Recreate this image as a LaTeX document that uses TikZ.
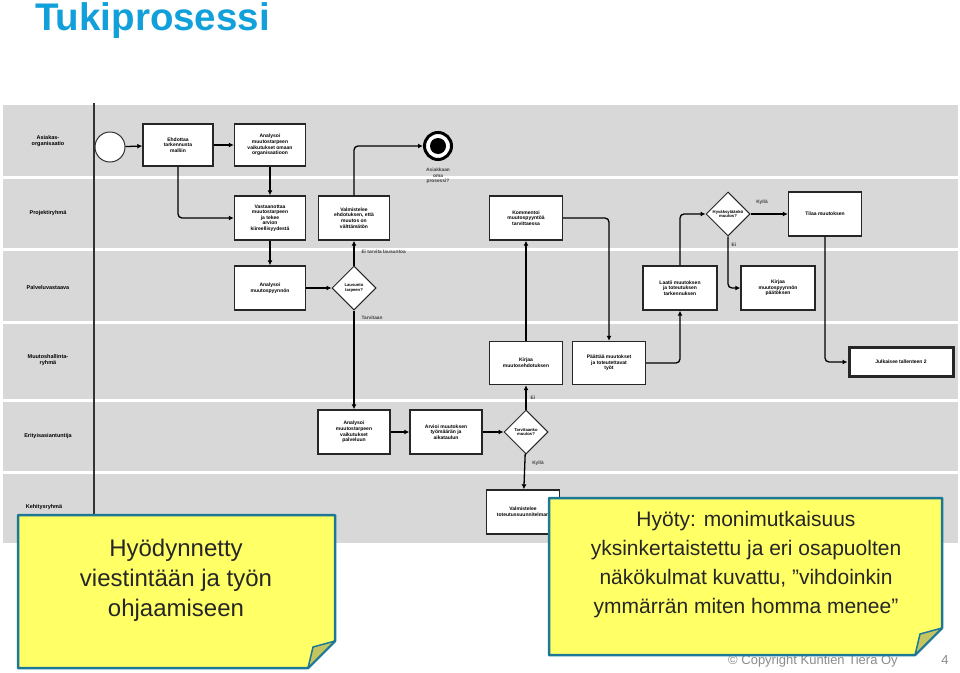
\documentclass[tikz,border=0pt]{standalone}
\usepackage{fontspec}
\setmainfont{Liberation Sans}
\usetikzlibrary{shapes.geometric,arrows.meta}

\definecolor{laneGrey}{RGB}{216,216,216}
\definecolor{tieraBlue}{RGB}{18,160,218}
\definecolor{noteYellow}{RGB}{255,255,102}
\definecolor{noteEdge}{RGB}{28,120,150}
\definecolor{noteFold}{RGB}{196,196,96}

\tikzset{
    task/.style={draw=black!85, line width=1.4pt, fill=white, minimum width=71pt,
        minimum height=44pt, align=center, inner sep=1pt,
        font=\fontsize{5}{5.6}\selectfont\bfseries},
    gate/.style={diamond, draw=black!85, line width=1pt, fill=white, aspect=1,
        minimum width=44pt, minimum height=44pt, inner sep=0pt, align=center,
        font=\fontsize{4.2}{4.7}\selectfont\bfseries},
    flow/.style={line width=1.3pt, rounded corners=4pt, -{Latex[length=5pt,width=5pt]}},
    lanelabel/.style={font=\fontsize{5.5}{6.5}\selectfont\bfseries, align=center},
    flowlabel/.style={font=\fontsize{4.8}{5.4}\selectfont\bfseries, text=black!75},
    notetext/.style={align=center, text=black!85},
}

\begin{document}
\begin{tikzpicture}[x=1pt, y=-1pt]
    \useasboundingbox (0,0) rectangle (960,672);
    \fill [white] (0,0) rectangle (960,672);

    % title
    \node [anchor=base west, inner sep=0pt, text=tieraBlue, font=\fontsize{38.5}{40}\selectfont\bfseries] (title) at (35,30) {Tukiprosessi};

    % swimlanes
    \fill [laneGrey] (3,105) rectangle (958,176);
    \fill [laneGrey] (3,179) rectangle (958,248);
    \fill [laneGrey] (3,251) rectangle (958,321);
    \fill [laneGrey] (3,324) rectangle (958,399);
    \fill [laneGrey] (3,402) rectangle (958,471);
    \fill [laneGrey] (3,474) rectangle (958,543);
    \draw [line width=1.5pt, black!80] (94,103) -- (94,545);

    \node [lanelabel] (lane1) at (48,141) {Asiakas-\\organisaatio};
    \node [lanelabel] (lane2) at (48,213) {Projektiryhmä};
    \node [lanelabel] (lane3) at (48,288) {Palveluvastaava};
    \node [lanelabel] (lane4) at (48,360) {Muutoshallinta-\\ryhmä};
    \node [lanelabel] (lane5) at (48,436) {Erityisasiantuntija};
    \node [lanelabel] (lane6) at (44,507) {Kehitysryhmä};

    % events
    \node [circle, draw=black!80, line width=1pt, fill=white, minimum size=30pt] (start) at (110,147) {};
    \node [circle, draw=black, line width=3pt, fill=white, minimum size=27pt] (end) at (438,146) {};
    \fill [black] (end.center) circle (8);
    \node [flowlabel, align=center] (endlabel) at (438,176) {Asiakkaan\\oma\\prosessi?};

    % tasks
    \node [task, minimum width=70pt, minimum height=42pt] (t1) at (178,145) {Ehdottaa\\tarkennusta\\malliin};
    \node [task, minimum height=42pt] (t2) at (270,145) {Analysoi\\muutostarpeen\\vaikutukset omaan\\organisaatioon};
    \node [task] (t3) at (270,218) {Vastaanottaa\\muutostarpeen\\ja tekee\\arvion\\kiireellisyydestä};
    \node [task] (t4) at (354,218) {Valmistelee\\ehdotuksen, että\\muutos on\\välttämätön};
    \node [task, minimum width=73pt] (t5) at (526,218) {Kommentoi\\muutospyyntöä\\tarvittaessa};
    \node [task, minimum width=73pt] (t6) at (825,214) {Tilaa muutoksen};
    \node [task] (t7) at (270,288) {Analysoi\\muutospyynnön};
    \node [task, minimum width=74pt] (t8) at (680,288) {Laatii muutoksen\\ja toteutuksen\\tarkennuksen};
    \node [task, minimum width=74pt] (t9) at (778,288) {Kirjaa\\muutospyynnön\\päätöksen};
    \node [task, minimum width=73pt, minimum height=43pt] (t10) at (526,363) {Kirjaa\\muutosehdotuksen};
    \node [task, minimum width=73pt, minimum height=43pt] (t11) at (609,363) {Päättää muutokset\\ja toteutettavat\\työt};
    \node [task, line width=3pt, minimum width=104pt, minimum height=29pt] (t12) at (901,362) {Julkaisee tallenteen 2};
    \node [task, minimum width=72pt] (t13) at (354,432) {Analysoi\\muutostarpeen\\vaikutukset\\palveluun};
    \node [task, minimum width=72pt] (t14) at (446,432) {Arvioi muutoksen\\työmäärän ja\\aikataulun};
    \node [task, minimum width=73pt] (t15) at (523,512) {Valmistelee\\toteutussuunnitelman};

    % gateways
    \node [gate] (g1) at (354,288) {Lausunto\\tarpeen?};
    \node [gate] (g2) at (728,214) {Hyväksytäänkö\\muutos?};
    \node [gate] (g3) at (526,432) {Tarvitaanko\\muutos?};

    % sequence flows
    \draw [flow] (start) -- (t1);
    \draw [flow] (t1) -- (t2);
    \draw [flow] (t2) -- (t3);
    \draw [flow] (t1.south) |- (t3.west);
    \draw [flow] (t3) -- (t7);
    \draw [flow] (t7) -- (g1);
    \draw [flow] (g1) -- (t4);
    \draw [flow] (t4.north) |- (end.west);
    \draw [flow] (g1) -- (t13);
    \draw [flow] (t13) -- (t14);
    \draw [flow] (t14) -- (g3);
    \draw [flow] (g3) -- (t10);
    \draw [flow] (g3) -- (t15);
    \draw [flow] (t10) -- (t5);
    \draw [flow] (t5.east) -| (t11.north);
    \draw [flow] (t11.east) -| (t8.south);
    \draw [flow] (t8.north) |- (g2.west);
    \draw [flow] (g2) -- (t6);
    \draw [flow] (g2.south) |- (t9.west);
    \draw [flow] (t6.south) |- (t12.west);

    % flow labels
    \node [flowlabel, anchor=west] (l1) at (358,252) {Ei tarvita lausuntoa};
    \node [flowlabel, anchor=west] (l2) at (358,318) {Tarvitaan};
    \node [flowlabel] (l3) at (762,202) {Kyllä};
    \node [flowlabel] (l4) at (734,245) {Ei};
    \node [flowlabel] (l5) at (533,398) {Ei};
    \node [flowlabel] (l6) at (538,463) {Kyllä};

    % footer
    \node [anchor=base west, inner sep=0pt, text=black!45, font=\fontsize{13}{15}\selectfont] (copy) at (728,664) {© Copyright Kuntien Tiera Oy};
    \node [anchor=base, inner sep=0pt, text=black!45, font=\fontsize{13}{15}\selectfont] (page) at (945,664) {4};

    % notes
    \draw [line width=2.5pt, draw=noteEdge, fill=noteYellow, line join=round] (18,515) -- (335,515) -- (335,641) -- (308,668) -- (18,668) -- cycle;
    \draw [line width=1.5pt, draw=noteEdge, fill=noteFold, line join=round] (335,641) -- (308,668) -- (313,647) -- cycle;
    \node [notetext, font=\fontsize{24}{30}\selectfont] (note1) at (176,580) {Hyödynnetty\\viestintään ja työn\\ohjaamiseen};

    \draw [line width=2.5pt, draw=noteEdge, fill=noteYellow, line join=round] (549,498) -- (942,498) -- (942,628) -- (915,655) -- (549,655) -- cycle;
    \draw [line width=1.5pt, draw=noteEdge, fill=noteFold, line join=round] (942,628) -- (915,655) -- (920,634) -- cycle;
    \node [notetext, font=\fontsize{21}{29}\selectfont] (note2) at (746,565) {Hyöty: monimutkaisuus\\yksinkertaistettu ja eri osapuolten\\näkökulmat kuvattu, ”vihdoinkin\\ymmärrän miten homma menee”};
\end{tikzpicture}
\end{document}
